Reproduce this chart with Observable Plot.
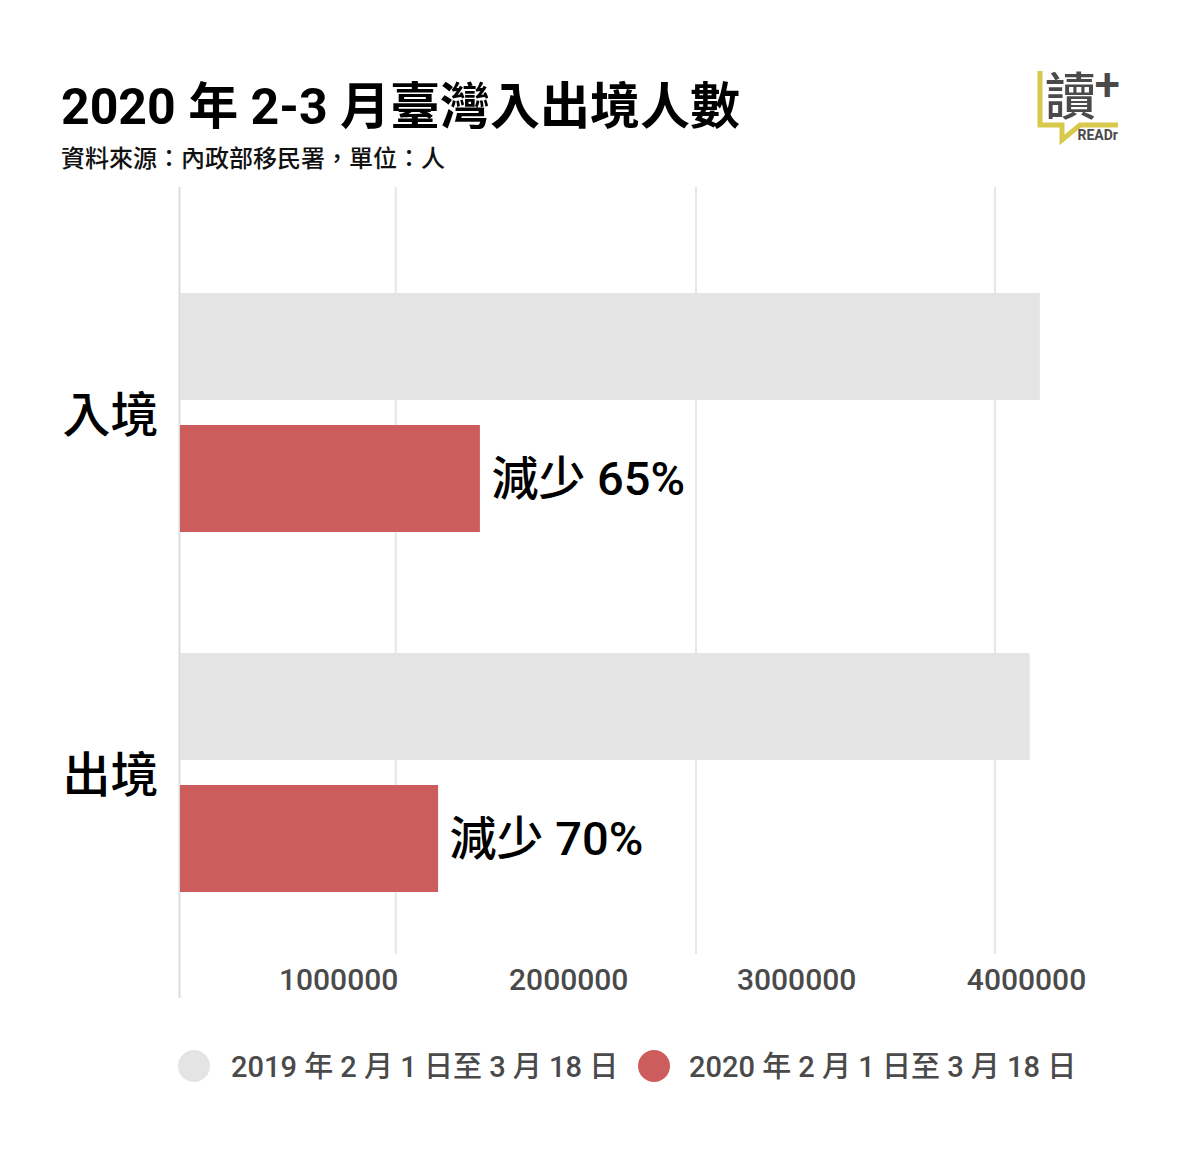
<!DOCTYPE html>
<html>
<head>
<meta charset="utf-8">
<script src="https://cdn.jsdelivr.net/npm/d3@7"></script>
<script src="https://cdn.jsdelivr.net/npm/@observablehq/plot@0.6"></script>
<style>
  body { margin: 0; background: #fff; width: 1184px; height: 1160px; position: relative; overflow: hidden;
    font-family: Roboto, "Noto Sans CJK TC", sans-serif; }
  #title { position: absolute; left: 61px; top: 66px; font-size: 50px; font-weight: 700; color: #000; white-space: nowrap; }
  #subtitle { position: absolute; left: 61px; top: 139px; font-size: 24px; font-weight: 500; color: #111; white-space: nowrap; }
  #logo { position: absolute; left: 1030px; top: 64px; overflow: visible; }
  #chart01 { position: absolute; left: 0; top: 187px; width: 1184px; height: 850px; }
  #chart01 svg { position: absolute; left: 0; top: 0; }
  #legend { position: absolute; left: 178px; top: 1046px; font-size: 29px; font-weight: 500; color: #4a4a4a; white-space: nowrap; }
  #legend .item { position: absolute; top: 0; display: flex; align-items: center; height: 40px; }
  #legend i { display: inline-block; width: 32px; height: 32px; border-radius: 50%; }
  #legend span { position: relative; top: -2px; }
</style>
</head>
<body>
<div id="title">2020 年 2-3 月臺灣入出境人數</div>
<div id="subtitle">資料來源：內政部移民署，單位：人</div>
<svg id="logo" width="100" height="90" viewBox="0 0 100 90">
  <path d="M10 7 V61 H32 V76 L50 61 H88" fill="none" stroke="#d9c94a" stroke-width="5"/>
  <text x="15" y="51" font-size="51" font-weight="500" fill="#4a4a4a" font-family="'Noto Sans CJK TC'">讀</text>
  <text x="90" y="36" font-size="46" font-weight="500" fill="#4a4a4a" text-anchor="end" font-family="Roboto">+</text>
  <text x="88" y="76" font-size="14" font-weight="700" fill="#4a4a4a" text-anchor="end" font-family="Roboto">READr</text>
</svg>
<div id="chart01"></div>
<div id="legend"></div>
<script>
const categories = ['入境', '出境']
const years = ['2019', '2020']
const legendLabels = ['2019 年 2 月 1 日至 3 月 18 日', '2020 年 2 月 1 日至 3 月 18 日']
const colors = ['#e4e4e4', '#cd5c5c']

const values2019 = [4220000, 4170000]
const values2020 = [1475000, 1270000]
const changeLabels = ['減少 65%', '減少 70%']

// the reference does not line its grid up with its labels, these are read off the picture
const gridValues = [1060000, 2532000, 3997000]
const tickLabels = ['1000000', '2000000', '3000000', '4000000']
const tickLabelValues = [780000, 1908000, 3025000, 4152000]

const rows = categories.flatMap((c, i) => [
  {category: c, year: years[0], value: values2019[i]},
  {category: c, year: years[1], value: values2020[i], label: changeLabels[i]}
])
const font = 'Roboto, "Noto Sans CJK TC", sans-serif'

const frame = {
  width: 1184,
  height: 850,
  marginTop: 0,
  marginBottom: 39,
  marginLeft: 179,
  marginRight: 87,
  style: {fontFamily: font, background: 'transparent'},
  x: {domain: [0, 4500000], axis: null}
}

// grid and tick labels go in their own svg behind the bars, they run across both facets
const grid = Plot.plot({
  ...frame,
  y: {axis: null},
  marks: [
    Plot.ruleX(gridValues, {x: d => d, stroke: '#e6e6e6', strokeWidth: 2, insetBottom: 44}),
    Plot.ruleX([0], {stroke: '#dcdcdc', strokeWidth: 2}),
    Plot.text(tickLabels, {
      x: (d, i) => tickLabelValues[i], text: d => d, frameAnchor: 'bottom', dy: -9,
      fontSize: 30, fontWeight: 500, fill: '#4a4a4a'
    })
  ]
})

const chart = Plot.plot({
  ...frame,
  y: {domain: years, axis: null, paddingInner: 0.19, paddingOuter: 0},
  fy: {domain: categories, label: null, paddingInner: 0.333, paddingOuter: 0.29},
  color: {domain: years, range: colors},
  marks: [
    Plot.barX(rows, {x: 'value', y: 'year', fy: 'category', fill: 'year', insetLeft: 1}),
    Plot.text(rows.filter(d => d.label), {
      x: 'value', y: 'year', fy: 'category', text: 'label',
      textAnchor: 'start', dx: 11, dy: 1, fontSize: 47, fontWeight: 500, fill: '#000'
    }),
    Plot.axisFy({anchor: 'left', tickSize: 0, tickPadding: 21, dy: 4, fontSize: 48, fontWeight: 500, fill: '#000', label: null})
  ]
})

d3.select('#chart01').append(() => grid)
d3.select('#chart01').append(() => chart)

const legendLeft = [0, 460]
const legendGap = [21, 19]
const legend = d3.select('#legend')
legendLabels.forEach((label, i) => {
  const item = legend.append('div').attr('class', 'item').style('left', legendLeft[i] + 'px')
  item.append('i').style('background', colors[i])
  item.append('span').style('margin-left', legendGap[i] + 'px').text(label)
})
</script>
</body>
</html>
